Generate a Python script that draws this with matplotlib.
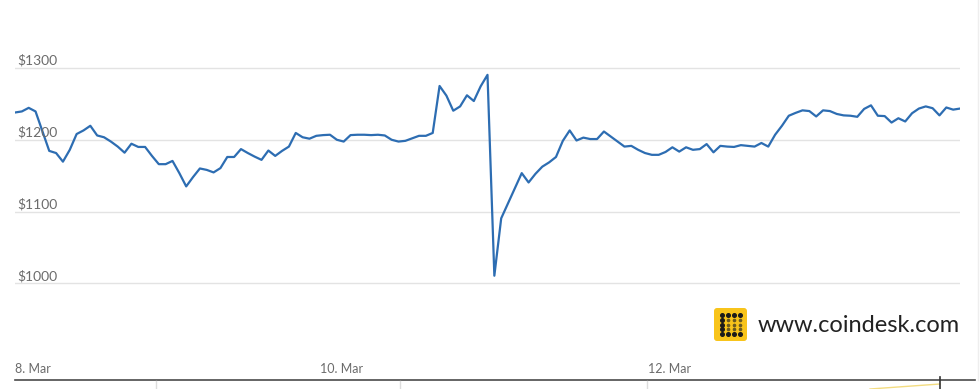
#matplotlib ile bitcoin fiyat grafigi (coindesk tarzi)
import matplotlib.pyplot as plt
import matplotlib.dates as mdates
import matplotlib.transforms as mtransforms
from matplotlib.patches import FancyBboxPatch
import numpy as np
import pandas as pd

plt.rcParams['font.family'] = ['Lato', 'DejaVu Sans']

# saatlik fiyatlar (USD)
fiyatlar_1 = [1238, 1239.5, 1244.5, 1239.5, 1212, 1184.5, 1181.5, 1169.5, 1186, 1208,
              1213, 1219.5, 1206, 1203.5, 1197.5, 1190.5, 1182, 1194.5, 1190, 1190,
              1177.5, 1166, 1166, 1170.5, 1153.5, 1135, 1148, 1160, 1158, 1154.5,
              1160.5, 1176, 1176, 1187, 1181.5, 1176.5, 1172, 1185, 1177.5, 1184.5,
              1190.5, 1209.5, 1203.5, 1201.5, 1205.5, 1206.5, 1207]
fiyatlar_2 = [1200, 1197.5, 1206.5, 1207, 1207, 1206.5, 1207, 1206, 1200, 1197.5,
              1198.5, 1202, 1205.5, 1205.5, 1209.5, 1275, 1261.5, 1240.5, 1246.5, 1262,
              1254, 1274.5, 1290.5, 1010.5, 1090.5, 1111.5, 1132.5, 1153.5, 1140.5, 1152.5,
              1162.5, 1168.5, 1176, 1198.5, 1213, 1199, 1203, 1201, 1201, 1211.5,
              1204.5, 1197.5, 1190.5, 1191.5, 1186, 1181.5, 1179]
fiyatlar_3 = [1179, 1183, 1189.5, 1183.5, 1189.5, 1186, 1187, 1194, 1182.5, 1191.5,
              1190.5, 1190, 1192.5, 1191.5, 1190.5, 1195.5, 1190.5, 1207, 1219.5, 1233.5,
              1237.5, 1241, 1240, 1232.5, 1241, 1240, 1236, 1234, 1233.5, 1232,
              1243, 1248, 1233.5, 1233, 1224, 1230, 1225.5, 1237, 1243.5, 1246.5,
              1244, 1234, 1245, 1242, 1243.5]
fiyatlar = fiyatlar_1 + fiyatlar_2 + fiyatlar_3

baslangic = "2017-03-08 03:30"
zamanlar = pd.date_range(baslangic, periods=len(fiyatlar), freq="h")

y_degerleri = [1000, 1100, 1200, 1300]
x_etiketleri = ["8. Mar", "10. Mar", "12. Mar"]
x_etiket_gunleri = [zamanlar[0], pd.Timestamp("2017-03-10"), pd.Timestamp("2017-03-12")]

W, H = 980, 389
fig = plt.figure(figsize=(W / 100, H / 100), dpi=100)

# ana grafik alani (piksel olarak 15..960 yatay, 30..355 dikey)
ax = fig.add_axes([15 / W, (H - 355) / H, 945 / W, 325 / H])
ax.plot(zamanlar, fiyatlar, color="#2d6db2", linewidth=1.6, zorder=3)
ax.set_xlim(zamanlar[0], zamanlar[-1])
ax.set_ylim(900, 1353)

ax.set_yticks(y_degerleri)
ax.set_yticklabels([])
ax.grid(axis="y", color="#e3e3e3", linewidth=1)
ax.tick_params(axis="y", length=0)
for s in ax.spines.values():
    s.set_visible(False)

# y etiketleri cizgilerin ustunde, sola yasli
trans = mtransforms.blended_transform_factory(ax.transAxes, ax.transData)
for v in y_degerleri:
    ax.annotate(f"${v}", xy=(0, v), xycoords=trans, xytext=(1.8, 2.2),
                textcoords="offset points", ha="left", va="baseline",
                fontsize=10, color="#6b6b6b")

ax.set_xticks(x_etiket_gunleri)
ax.set_xticklabels(x_etiketleri, ha="left", fontsize=9, color="#6b6b6b")
ax.tick_params(axis="x", length=0, pad=6)

# ust katman: logo ve alttaki gezinti seridi
ov = fig.add_axes([0, 0, 1, 1], zorder=5)
ov.set_xlim(0, W)
ov.set_ylim(H, 0)
ov.axis("off")

ov.add_patch(FancyBboxPatch((714, 308), 33, 33, boxstyle="round,pad=0,rounding_size=3",
                            facecolor="#f8c41b", edgecolor="none"))
kx = np.linspace(721.5, 739.5, 4)
ky = np.linspace(315, 334, 5)
for j, yy in enumerate(ky):
    for i, xx in enumerate(kx):
        dolu = j in (0, 4) or i == 0
        ov.plot(xx, yy, "o", color="#1a1a1a" if dolu else "#6b5a20",
                markersize=2.6 if dolu else 1.6)
ov.text(758, 325, "www.coindesk.com", fontsize=17, color="#222222",
        ha="left", va="center")

ov.plot([15, 975], [380, 380], color="#4a4a4a", linewidth=1.2)
for xx in [156, 400, 647]:
    ov.plot([xx, xx], [381, 389], color="#dddddd", linewidth=1)
ov.plot([870, 940], [389, 384], color="#f3dc80", linewidth=1)
ov.plot([940, 940], [377, 389], color="#333333", linewidth=1.2)
ov.plot([978, 978], [0, 380], color="#eeeeee", linewidth=1)

plt.savefig("out.png", dpi=100)
plt.close()
